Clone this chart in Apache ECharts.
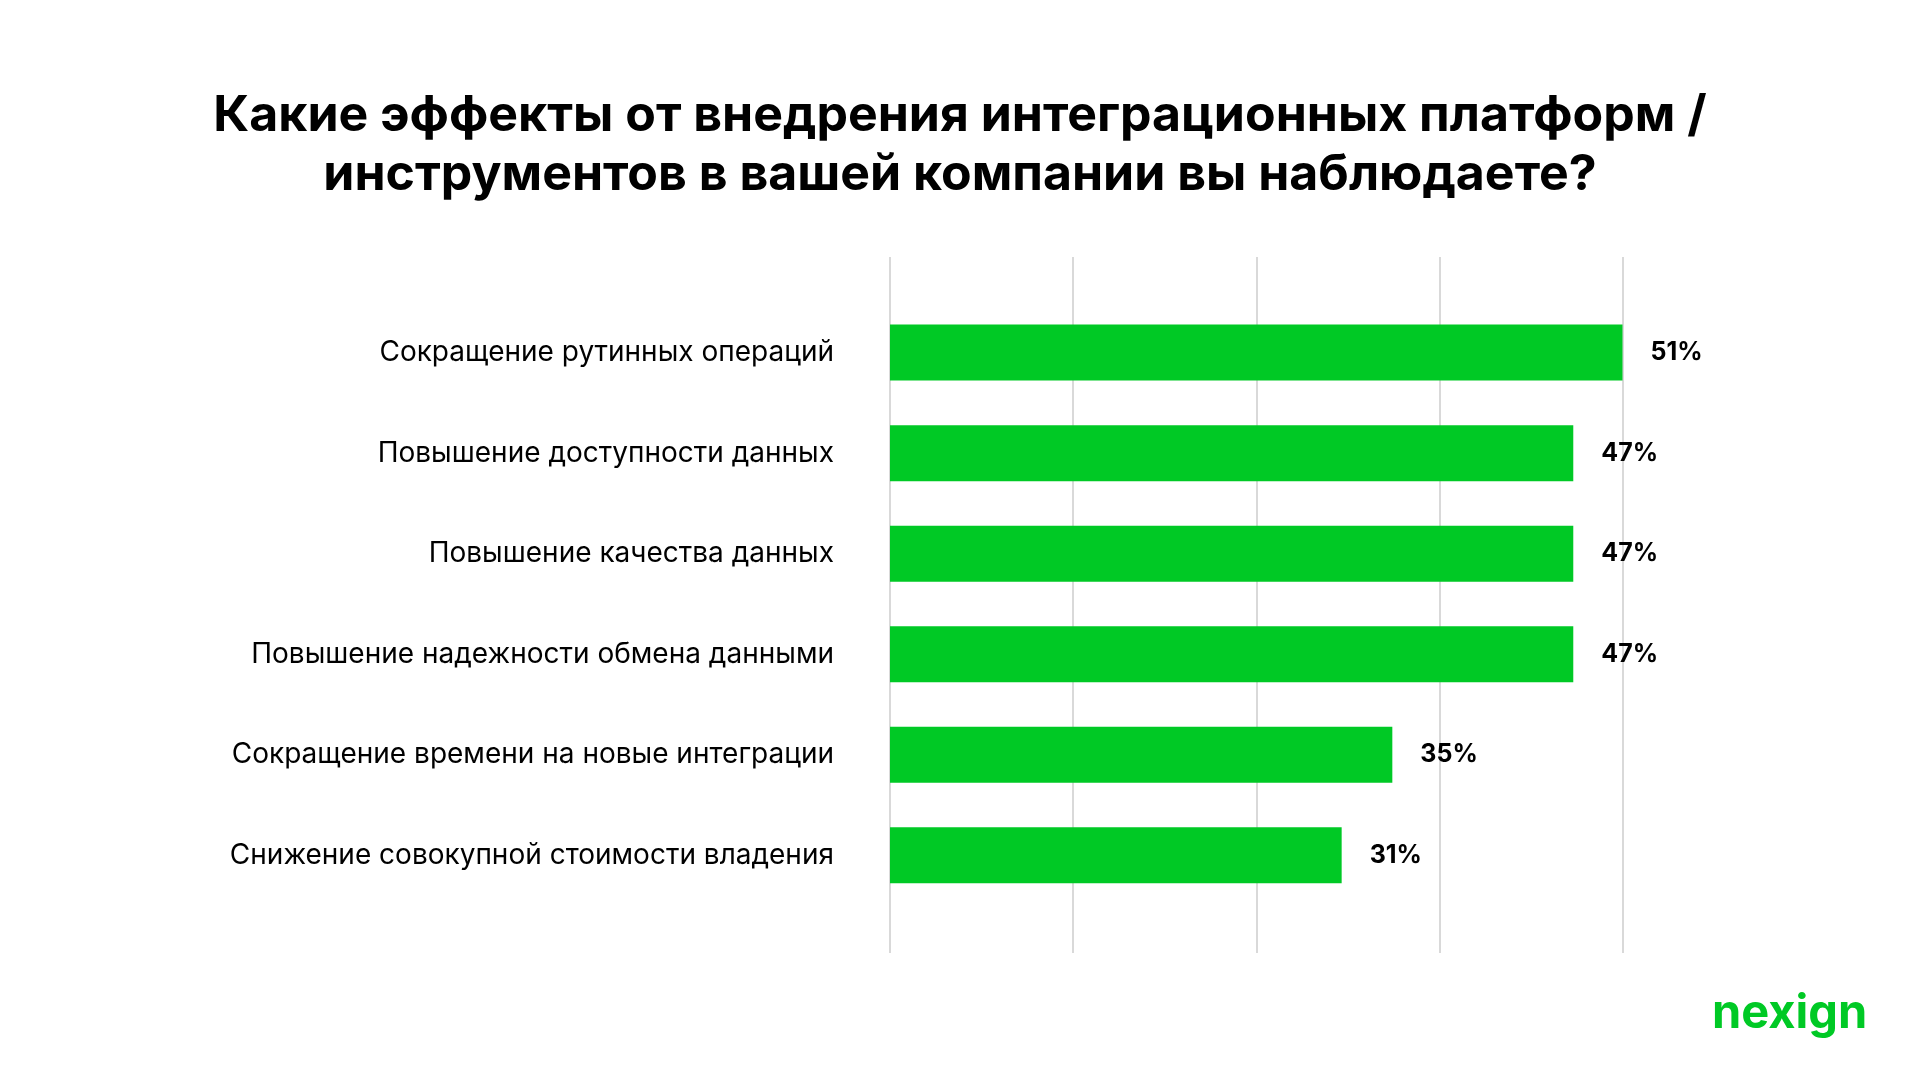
<!DOCTYPE html>
<html>
<head>
<meta charset="utf-8">
<script src="https://cdn.jsdelivr.net/npm/echarts@6/dist/echarts.min.js"></script>
<style>
html,body{margin:0;padding:0;background:#fff;}
#chart{width:1920px;height:1080px;}
</style>
</head>
<body>
<div id="chart"></div>
<script>
const titleText = 'Какие эффекты от внедрения интеграционных платформ /\nинструментов в вашей компании вы наблюдаете?';
const categories = [
  'Сокращение рутинных операций',
  'Повышение доступности данных',
  'Повышение качества данных',
  'Повышение надежности обмена данными',
  'Сокращение времени на новые интеграции',
  'Снижение совокупной стоимости владения'
];
const values = [50.6, 47.2, 47.2, 47.2, 34.7, 31.2];
const axisMax = 50.6;
const axisInterval = 12.65;
const brandText = 'nexign';

const GREEN = '#00C925';
const chart = echarts.init(document.getElementById('chart'), null, {renderer: 'canvas'});
chart.setOption({
  backgroundColor: '#ffffff',
  animation: false,
  grid: [
    {left: 890, right: 297.5, top: 257, bottom: 127},
    {left: 890, right: 297.5, top: 302.3, bottom: 174.4}
  ],
  xAxis: [
    {gridIndex: 0, type: 'value', min: 0, max: axisMax, interval: axisInterval,
     axisLine: {show: false}, axisTick: {show: false}, axisLabel: {show: false},
     splitLine: {show: true, lineStyle: {color: '#d9d9d9', width: 2}}},
    {gridIndex: 1, type: 'value', min: 0, max: axisMax, interval: axisInterval,
     axisLine: {show: false}, axisTick: {show: false}, axisLabel: {show: false},
     splitLine: {show: false}}
  ],
  yAxis: [
    {gridIndex: 0, type: 'category', data: categories, show: false},
    {gridIndex: 1, type: 'category', data: categories, inverse: true,
     axisLine: {show: false}, axisTick: {show: false},
     axisLabel: {margin: 56, fontFamily: 'Inter', fontSize: 28, color: '#000000'}}
  ],
  series: [{
    type: 'bar',
    xAxisIndex: 1,
    yAxisIndex: 1,
    data: values,
    barWidth: 56,
    itemStyle: {color: GREEN},
    label: {
      show: true,
      position: 'right',
      distance: 28,
      formatter: p => Math.round(p.value) + '%',
      fontFamily: 'Inter',
      fontWeight: 'bold',
      fontSize: 25,
      color: '#000000'
    }
  }],
  graphic: [
    {
      type: 'text',
      x: 960,
      y: 86,
      style: {
        text: titleText,
        align: 'center',
        verticalAlign: 'top',
        fontFamily: 'Inter',
        fontWeight: 'bold',
        fontSize: 50,
        lineHeight: 59,
        fill: '#000000'
      }
    },
    {
      type: 'text',
      left: 1712,
      top: 990,
      style: {
        text: brandText,
        fontFamily: 'Inter',
        fontWeight: 'bold',
        fontSize: 47,
        fill: GREEN
      }
    }
  ]
});
</script>
</body>
</html>
